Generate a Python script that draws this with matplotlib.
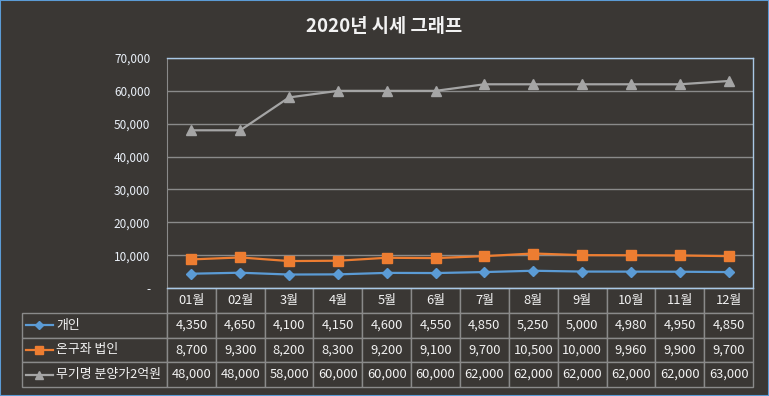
import matplotlib
matplotlib.use("Agg")
import matplotlib.pyplot as plt
from matplotlib.ticker import FuncFormatter
from matplotlib.patches import Rectangle

plt.rcParams['font.family'] = ['Noto Sans CJK KR', 'DejaVu Sans']

# 데이터
months = ["01월", "02월", "3월", "4월", "5월", "6월", "7월", "8월", "9월", "10월", "11월", "12월"]
series_names = ["개인", "온구좌 법인", "무기명 분양가2억원"]
personal = [4350, 4650, 4100, 4150, 4600, 4550, 4850, 5250, 5000, 4980, 4950, 4850]
corp = [8700, 9300, 8200, 8300, 9200, 9100, 9700, 10500, 10000, 9960, 9900, 9700]
bearer = [48000, 48000, 58000, 60000, 60000, 60000, 62000, 62000, 62000, 62000, 62000, 63000]

BG = "#3a3734"
TXT = "#f2f2f2"
GRID = "#8a8a8a"
colors = ["#5b9bd5", "#ed7d31", "#a5a5a5"]
markers = ["D", "s", "^"]
msizes = [5, 7, 7]
leg_sizes = [4, 6, 6]

W, H = 769, 396
fig = plt.figure(figsize=(W / 100, H / 100), dpi=100, facecolor=BG)
fig.patches.append(Rectangle((0, 0), 1, 1, transform=fig.transFigure,
                             fill=False, edgecolor="#5b9bd5", linewidth=1.5))

# 플롯 영역 (픽셀 기준)
left, right, top, bottom = 167, 753, 58, 288
ax = fig.add_axes([left / W, 1 - bottom / H, (right - left) / W, (bottom - top) / H])
ax.set_facecolor(BG)

x = list(range(len(months)))
all_series = [personal, corp, bearer]
for vals, c, m, ms, name in zip(all_series, colors, markers, msizes, series_names):
    ax.plot(x, vals, color=c, linewidth=1.6, marker=m, markersize=ms, label=name)

ax.set_xlim(-0.5, len(months) - 0.5)
ax.set_ylim(0, 70000)
ax.set_yticks(range(0, 70001, 10000))
ax.yaxis.set_major_formatter(FuncFormatter(lambda v, p: "-" if v == 0 else f"{int(v):,}"))
ax.tick_params(axis="y", length=0, pad=12, labelcolor="#eaf0f8", labelsize=8.5)
ax.set_xticks([])
ax.grid(axis="y", color=GRID, linewidth=1)
ax.set_axisbelow(True)
for s in ["top", "right", "bottom"]:
    ax.spines[s].set_color("#a9c8e6")
    ax.spines[s].set_linewidth(1)
ax.spines["left"].set_color(GRID)

# 제목
fig.text(0.5, 1 - 27 / H, "2020년 시세 그래프", ha="center", va="center",
         color=TXT, fontsize=13.5, fontweight="bold")

# 데이터 테이블
plot_w = right - left
plot_h = bottom - top
tab_left, tab_bottom = 22, 387
label_w = left - tab_left
col_w = plot_w / len(months)

cell_text = [["", *months]]
for name, vals in zip(series_names, all_series):
    cell_text.append([name] + [f"{v:,}" for v in vals])

bbox = [(tab_left - left) / plot_w, -(tab_bottom - bottom) / plot_h,
        (right - tab_left) / plot_w, (tab_bottom - bottom) / plot_h]
tbl = ax.table(cellText=cell_text, colWidths=[label_w] + [col_w] * len(months),
               cellLoc="center", bbox=bbox)
tbl.auto_set_font_size(False)
tbl.set_fontsize(9.3)
for (r, c), cell in tbl.get_celld().items():
    cell.set_facecolor(BG)
    cell.set_edgecolor(GRID)
    cell.set_linewidth(1)
    cell.get_text().set_color(TXT)
    if c == 0:
        cell.get_text().set_ha("left")
        cell._loc = "left"
        cell.PAD = 34 / label_w
    if r == 0 and c == 0:
        cell.visible_edges = "open"

# 범례 표시 (표 행 라벨 옆)
row_h = (tab_bottom - bottom) / 4
for i, (c, m, ms) in enumerate(zip(colors, markers, leg_sizes)):
    yc = bottom + row_h * (i + 1.5)
    ya = -(yc - bottom) / plot_h
    xa0 = (26 - left) / plot_w
    xa1 = (53 - left) / plot_w
    ax.plot([xa0, xa1], [ya, ya], transform=ax.transAxes, color=c, linewidth=1.6, clip_on=False)
    ax.plot([(xa0 + xa1) / 2], [ya], transform=ax.transAxes, color=c, marker=m,
            markersize=ms, clip_on=False)

fig.savefig("out.png", dpi=100, facecolor=BG)
